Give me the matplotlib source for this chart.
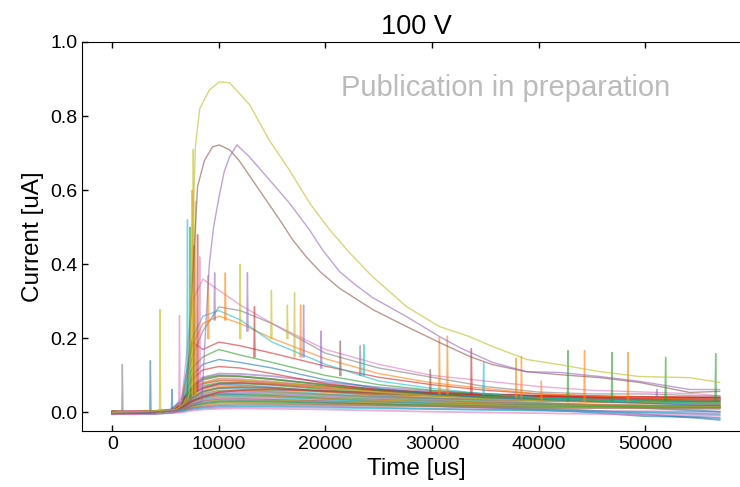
import numpy as np
import matplotlib
matplotlib.use("Agg")
import matplotlib.pyplot as plt

plt.rcParams['font.family'] = ['Liberation Sans', 'DejaVu Sans']

# shared time grid (us) for the medium / low traces
t_grid = [0, 2000, 4000, 5500, 6500, 7500, 8500, 10000, 12000, 15000, 20000,
          25000, 30000, 35000, 40000, 45000, 50000, 55000, 57000]

# three large pulses, each read on its own time points
t_olive = [0, 3000, 6000, 7000, 7200, 7500, 7800, 8200, 9100, 10000, 11000, 12900,
           14700, 16600, 18500, 20400, 22300, 24400, 27600, 30700, 33500, 35700,
           38900, 42000, 45800, 49500, 54200, 57000]
i_olive = [0.0, 0.003, 0.008, 0.03, 0.05, 0.45, 0.72, 0.82, 0.87, 0.892, 0.89, 0.83,
           0.736, 0.655, 0.566, 0.493, 0.43, 0.367, 0.286, 0.232, 0.205, 0.178,
           0.143, 0.129, 0.11, 0.097, 0.094, 0.081]

t_brown = [0, 3000, 6000, 7000, 7400, 8000, 8640, 9400, 10050, 11000, 11900, 13800,
           15700, 16950, 18200, 19500, 21330, 24430, 27600, 30700, 33550, 35700,
           38900, 42000, 45800, 49500, 54200, 57000]
i_brown = [0.0, -0.002, 0.006, 0.03, 0.3, 0.61, 0.68, 0.717, 0.722, 0.709, 0.68, 0.60,
           0.52, 0.465, 0.42, 0.38, 0.335, 0.278, 0.232, 0.189, 0.151, 0.129, 0.11,
           0.102, 0.094, 0.081, 0.054, 0.057]

t_purple = [0, 3000, 6000, 7500, 8400, 8800, 9100, 9500, 10000, 10500, 11000, 11700,
            12860, 14740, 16600, 18500, 19700, 21330, 22800, 24430, 27600, 30700,
            32600, 35700, 38900, 42000, 45800, 49500, 54200, 57000]
i_purple = [0.0, 0.002, 0.005, 0.02, 0.03, 0.25, 0.40, 0.50, 0.58, 0.65, 0.69, 0.722,
            0.69, 0.628, 0.566, 0.493, 0.44, 0.38, 0.345, 0.31, 0.259, 0.205, 0.175,
            0.135, 0.11, 0.108, 0.097, 0.084, 0.062, 0.062]

# medium pulses on t_grid
i_pink = [0, 0.005, 0, 0.005, 0.03, 0.30, 0.36, 0.33, 0.29, 0.24, 0.17, 0.13, 0.10,
          0.085, 0.07, 0.06, 0.055, 0.05, 0.045]
i_gray = [0, 0, 0.005, 0.005, 0.03, 0.15, 0.22, 0.285, 0.275, 0.24, 0.16, 0.12, 0.095,
          0.07, 0.055, 0.05, 0.05, 0.045, 0.045]
i_cyan = [0, 0, 0, 0.005, 0.04, 0.20, 0.26, 0.275, 0.25, 0.19, 0.13, 0.085, 0.065,
          0.05, 0.04, 0.035, 0.03, 0.025, 0.025]
i_orange = [0, 0, 0.005, 0.005, 0.03, 0.18, 0.24, 0.26, 0.24, 0.20, 0.145, 0.105, 0.08,
            0.065, 0.05, 0.045, 0.04, 0.035, 0.035]
i_red = [0, 0, 0, 0.005, 0.03, 0.19, 0.17, 0.19, 0.18, 0.16, 0.125, 0.095, 0.075,
         0.06, 0.05, 0.045, 0.04, 0.035, 0.035]
i_green = [0, 0, 0, 0.005, 0.03, 0.12, 0.15, 0.17, 0.155, 0.135, 0.10, 0.075, 0.06,
           0.05, 0.04, 0.035, 0.03, 0.03, 0.03]
i_blue = [0, 0, 0, 0.005, 0.025, 0.10, 0.13, 0.143, 0.135, 0.12, 0.088, 0.065, 0.05,
          0.04, 0.035, 0.03, 0.025, 0.02, 0.02]
i_red2 = [0, 0, 0, 0.005, 0.02, 0.09, 0.115, 0.124, 0.12, 0.105, 0.078, 0.062, 0.055,
          0.05, 0.045, 0.04, 0.04, 0.04, 0.04]

# the dense low band on t_grid
band = [
    [0.000, 0.004, 0.002, 0.006, 0.030, 0.070, 0.095, 0.105, 0.104, 0.098, 0.082, 0.068, 0.058, 0.050, 0.045, 0.040, 0.036, 0.034, 0.033],
    [-0.004, 0.000, 0.003, 0.004, 0.025, 0.065, 0.088, 0.098, 0.097, 0.090, 0.075, 0.062, 0.052, 0.045, 0.040, 0.036, 0.033, 0.030, 0.030],
    [0.002, -0.003, 0.000, 0.005, 0.022, 0.060, 0.080, 0.092, 0.090, 0.084, 0.070, 0.058, 0.048, 0.040, 0.034, 0.030, 0.026, 0.022, 0.020],
    [0.000, 0.002, 0.004, 0.008, 0.030, 0.062, 0.078, 0.086, 0.085, 0.080, 0.070, 0.060, 0.052, 0.046, 0.042, 0.040, 0.038, 0.036, 0.036],
    [-0.002, 0.000, 0.000, 0.004, 0.020, 0.055, 0.072, 0.080, 0.079, 0.074, 0.062, 0.052, 0.045, 0.038, 0.033, 0.030, 0.027, 0.025, 0.024],
    [0.003, 0.001, -0.002, 0.003, 0.018, 0.050, 0.066, 0.075, 0.074, 0.068, 0.056, 0.046, 0.038, 0.032, 0.026, 0.020, 0.012, 0.005, 0.002],
    [0.000, 0.003, 0.002, 0.005, 0.018, 0.046, 0.061, 0.070, 0.069, 0.065, 0.055, 0.047, 0.040, 0.035, 0.031, 0.028, 0.026, 0.024, 0.023],
    [-0.003, -0.001, 0.001, 0.004, 0.016, 0.043, 0.057, 0.066, 0.065, 0.060, 0.050, 0.042, 0.035, 0.029, 0.024, 0.020, 0.017, 0.015, 0.015],
    [0.002, 0.000, 0.003, 0.006, 0.015, 0.040, 0.053, 0.061, 0.061, 0.057, 0.048, 0.040, 0.034, 0.029, 0.025, 0.022, 0.020, 0.018, 0.017],
    [0.000, 0.002, 0.000, 0.004, 0.014, 0.037, 0.050, 0.058, 0.058, 0.055, 0.048, 0.042, 0.038, 0.035, 0.032, 0.030, 0.028, 0.027, 0.026],
    [0.004, 0.002, 0.003, 0.006, 0.020, 0.050, 0.066, 0.078, 0.080, 0.076, 0.066, 0.058, 0.052, 0.048, 0.045, 0.043, 0.042, 0.040, 0.040],
    [-0.002, 0.000, 0.001, 0.003, 0.012, 0.034, 0.046, 0.053, 0.054, 0.051, 0.044, 0.037, 0.032, 0.027, 0.024, 0.021, 0.019, 0.018, 0.018],
    [0.001, -0.002, 0.000, 0.003, 0.012, 0.032, 0.043, 0.050, 0.050, 0.047, 0.040, 0.034, 0.029, 0.025, 0.021, 0.018, 0.016, 0.015, 0.014],
    [-0.004, -0.002, -0.001, 0.002, 0.010, 0.030, 0.040, 0.047, 0.047, 0.044, 0.037, 0.030, 0.024, 0.018, 0.012, 0.005, -0.005, -0.015, -0.020],
    [0.002, 0.003, 0.001, 0.004, 0.010, 0.028, 0.038, 0.044, 0.045, 0.043, 0.037, 0.032, 0.028, 0.025, 0.022, 0.020, 0.018, 0.017, 0.017],
    [0.000, -0.002, 0.002, 0.003, 0.009, 0.026, 0.035, 0.041, 0.042, 0.040, 0.034, 0.029, 0.025, 0.022, 0.020, 0.018, 0.016, 0.015, 0.016],
    [-0.003, -0.004, -0.002, 0.000, 0.008, 0.024, 0.033, 0.038, 0.039, 0.036, 0.030, 0.024, 0.018, 0.012, 0.007, 0.003, 0.000, -0.004, -0.006],
    [0.003, 0.001, 0.002, 0.004, 0.008, 0.022, 0.030, 0.035, 0.036, 0.034, 0.030, 0.026, 0.023, 0.021, 0.019, 0.018, 0.017, 0.016, 0.016],
    [0.000, 0.001, -0.001, 0.002, 0.007, 0.020, 0.027, 0.032, 0.033, 0.032, 0.028, 0.025, 0.022, 0.020, 0.018, 0.017, 0.016, 0.015, 0.015],
    [-0.005, -0.003, -0.004, -0.001, 0.005, 0.018, 0.025, 0.030, 0.031, 0.030, 0.026, 0.022, 0.018, 0.014, 0.008, 0.000, -0.010, -0.012, -0.015],
    [0.001, 0.000, 0.002, 0.003, 0.006, 0.016, 0.022, 0.027, 0.028, 0.027, 0.024, 0.021, 0.019, 0.017, 0.016, 0.015, 0.014, 0.013, 0.013],
    [-0.002, 0.000, 0.000, 0.002, 0.005, 0.014, 0.019, 0.024, 0.025, 0.024, 0.022, 0.019, 0.017, 0.015, 0.013, 0.012, 0.011, 0.010, 0.010],
    [0.002, 0.003, 0.002, 0.003, 0.005, 0.012, 0.016, 0.020, 0.022, 0.022, 0.020, 0.018, 0.016, 0.014, 0.013, 0.012, 0.012, 0.011, 0.011],
    [-0.003, -0.002, -0.003, 0.000, 0.003, 0.010, 0.014, 0.017, 0.018, 0.018, 0.016, 0.013, 0.010, 0.008, 0.006, 0.004, 0.003, 0.002, 0.002],
    [0.000, -0.001, 0.001, 0.002, 0.004, 0.008, 0.011, 0.014, 0.015, 0.015, 0.013, 0.011, 0.009, 0.007, 0.005, 0.003, 0.000, -0.003, -0.004],
    [-0.004, -0.005, -0.003, -0.002, 0.000, 0.005, 0.008, 0.010, 0.011, 0.010, 0.008, 0.005, 0.002, 0.000, -0.002, -0.004, -0.006, -0.008, -0.009],
    [0.001, 0.002, 0.004, 0.006, 0.012, 0.030, 0.042, 0.055, 0.060, 0.062, 0.058, 0.053, 0.049, 0.046, 0.044, 0.043, 0.042, 0.041, 0.041],
    [0.000, 0.002, 0.001, 0.005, 0.015, 0.040, 0.056, 0.066, 0.068, 0.066, 0.058, 0.050, 0.045, 0.041, 0.038, 0.036, 0.035, 0.034, 0.034],
    [0.002, 0.000, 0.001, 0.004, 0.020, 0.058, 0.080, 0.090, 0.088, 0.082, 0.068, 0.055, 0.045, 0.038, 0.033, 0.030, 0.028, 0.026, 0.026],
    [0.000, 0.000, 0.002, 0.005, 0.025, 0.070, 0.092, 0.100, 0.098, 0.090, 0.074, 0.060, 0.050, 0.043, 0.038, 0.034, 0.031, 0.029, 0.029],
]
band_colors = ['C4', 'C5', 'C6', 'C3', 'C2', 'C0', 'C1', 'C9', 'C8', 'C7',
               'C3', 'C4', 'C2', 'C0', 'C1', 'C9', 'C6', 'C5', 'C8', 'C0',
               'C2', 'C1', 'C7', 'C4', 'C9', 'C6', 'C3', 'C5', 'C8', 'C2']

# single-sample spikes: time, baseline, peak
spike_t = [940, 3570, 4480, 5600, 6300, 7050, 7300, 7500, 7600, 7700, 7800, 8000,
           8200, 9000, 9600, 10600, 12000, 12680, 13340, 14930, 16430, 17100, 17670,
           17950, 19600, 21400, 23270, 23600, 29850, 30700, 31450, 33700, 34850,
           37900, 38400, 40270, 42760, 44320, 46900, 48400, 51100, 51930, 56630]
spike_top = [0.13, 0.14, 0.278, 0.062, 0.262, 0.52, 0.50, 0.60, 0.71, 0.45, 0.57,
             0.48, 0.42, 0.37, 0.377, 0.377, 0.40, 0.377, 0.286, 0.33, 0.29, 0.323,
             0.29, 0.29, 0.22, 0.193, 0.18, 0.183, 0.116, 0.202, 0.206, 0.172, 0.135,
             0.146, 0.152, 0.085, 0.167, 0.167, 0.162, 0.162, 0.062, 0.149, 0.159]
spike_base = [0, 0, 0, 0.01, 0.02, 0.04, 0.04, 0.05, 0.05, 0.05, 0.05, 0.06, 0.06,
              0.2, 0.25, 0.25, 0.2, 0.22, 0.15, 0.2, 0.2, 0.15, 0.15, 0.15, 0.12,
              0.1, 0.1, 0.1, 0.05, 0.05, 0.05, 0.05, 0.05, 0.04, 0.04, 0.03, 0.03,
              0.03, 0.03, 0.03, 0.04, 0.03, 0.03]
spike_colors = ['C7', 'C0', 'C8', 'C0', 'C6', 'C9', 'C2', 'C1', 'C8', 'C3', 'C8',
                'C3', 'C6', 'C1', 'C4', 'C1', 'C8', 'C4', 'C3', 'C8', 'C8', 'C8',
                'C1', 'C4', 'C4', 'C5', 'C7', 'C9', 'C5', 'C1', 'C1', 'C3', 'C9',
                'C1', 'C1', 'C1', 'C2', 'C1', 'C2', 'C1', 'C4', 'C2', 'C2']

fig = plt.figure(figsize=(7.4, 4.87), dpi=100)
ax = fig.add_axes([0.1108, 0.115, 0.9027, 0.7988])

a = 0.6
for vals, c in zip(band, band_colors):
    ax.plot(t_grid, vals, color=c, lw=1.3, alpha=a)

medium = [(i_red2, 'C3'), (i_blue, 'C0'), (i_green, 'C2'), (i_red, 'C3'),
          (i_orange, 'C1'), (i_cyan, 'C9'), (i_gray, 'C7'), (i_pink, 'C6')]
for vals, c in medium:
    ax.plot(t_grid, vals, color=c, lw=1.0, alpha=a)

for t, b, top, c in zip(spike_t, spike_base, spike_top, spike_colors):
    ax.plot([t - 60, t, t + 60], [b, top, b], color=c, lw=1.0, alpha=a)

ax.plot(t_brown, i_brown, color='C5', lw=1.0, alpha=a)
ax.plot(t_purple, i_purple, color='C4', lw=1.0, alpha=a)
ax.plot(t_olive, i_olive, color='C8', lw=1.0, alpha=a)

ax.set_ylim(-0.05, 1.0)
ax.set_yticks([0.0, 0.2, 0.4, 0.6, 0.8, 1.0])
ax.set_xticks([0, 10000, 20000, 30000, 40000, 50000])
ax.tick_params(direction='in', top=True, right=True, labelsize=14, length=4.5, width=1)
ax.set_xlabel('Time [us]', fontsize=17.5, labelpad=4)
ax.set_ylabel('Current [uA]', fontsize=17.5)
ax.set_title('100 V', fontsize=19.5)
ax.text(0.88, 0.861, 'Publication in preparation', transform=ax.transAxes,
        ha='right', va='baseline', fontsize=21, color='#bbbbbb')

fig.savefig('out.png', dpi=100)
